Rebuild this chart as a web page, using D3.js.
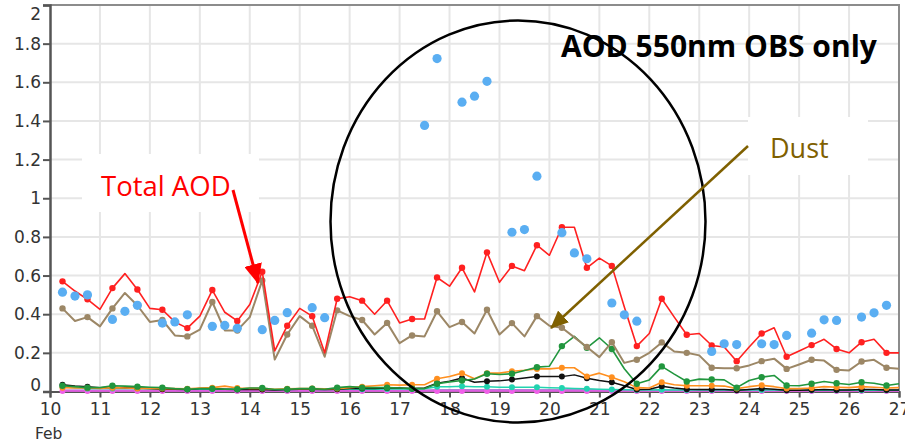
<!DOCTYPE html>
<html><head><meta charset="utf-8">
<script src="https://cdn.jsdelivr.net/npm/d3@7"></script>
<style>body{margin:0;background:#fff}svg{display:block}</style>
</head><body><svg id="c" width="905" height="443"></svg>
<script>
// ---- data ----
const times = [10.25,10.5,10.75,11,11.25,11.5,11.75,12,12.25,12.5,12.75,13,13.25,13.5,13.75,14,14.25,14.5,14.75,15,
  15.25,15.5,15.75,16,16.25,16.5,16.75,17,17.25,17.5,17.75,18,18.25,18.5,18.75,19,19.25,19.5,19.75,20,
  20.25,20.5,20.75,21,21.25,21.5,21.75,22,22.25,22.5,22.75,23,23.25,23.5,23.75,24,24.25,24.5,24.75,25,
  25.25,25.5,25.75,26,26.25,26.5,26.75,27];
const totalAOD = [0.57,0.52,0.477,0.425,0.535,0.61,0.528,0.43,0.423,0.36,0.328,0.39,0.525,0.41,0.365,0.45,0.62,0.21,0.34,0.43,
  0.39,0.20,0.48,0.49,0.47,0.40,0.47,0.355,0.375,0.375,0.59,0.545,0.64,0.515,0.72,0.565,0.65,0.625,0.757,0.705,
  0.85,0.85,0.64,0.69,0.65,0.437,0.235,0.30,0.48,0.385,0.294,0.30,0.238,0.23,0.157,0.23,0.30,0.33,0.18,0.21,
  0.24,0.27,0.22,0.20,0.255,0.27,0.20,0.20];
const dust = [0.43,0.365,0.385,0.337,0.43,0.51,0.445,0.36,0.37,0.29,0.285,0.32,0.463,0.316,0.316,0.385,0.575,0.165,0.295,0.39,
  0.34,0.18,0.42,0.39,0.37,0.295,0.355,0.25,0.29,0.285,0.415,0.333,0.36,0.30,0.423,0.295,0.354,0.285,0.39,0.34,
  0.33,0.28,0.23,0.178,0.255,0.148,0.164,0.20,0.254,0.207,0.20,0.187,0.123,0.12,0.12,0.135,0.157,0.17,0.117,0.14,
  0.164,0.16,0.112,0.109,0.155,0.164,0.123,0.118];
const greenSeries = [0.03,0.025,0.02,0.02,0.03,0.028,0.025,0.022,0.02,0.015,0.012,0.015,0.015,0.012,0.012,0.018,0.018,0.01,0.012,0.015,
  0.015,0.012,0.02,0.025,0.02,0.02,0.02,0.018,0.015,0.015,0.04,0.05,0.057,0.065,0.092,0.088,0.092,0.109,0.126,0.131,
  0.235,0.285,0.226,0.278,0.22,0.118,0.04,0.06,0.13,0.09,0.052,0.064,0.062,0.06,0.02,0.057,0.074,0.083,0.031,0.03,
  0.04,0.052,0.043,0.036,0.048,0.043,0.031,0.04];
const orangeSeries = [0.02,0.018,0.018,0.016,0.02,0.018,0.016,0.016,0.015,0.015,0.014,0.018,0.02,0.028,0.018,0.016,0.016,0.012,0.014,0.015,
  0.015,0.014,0.015,0.02,0.025,0.03,0.035,0.033,0.035,0.035,0.066,0.078,0.095,0.066,0.095,0.095,0.105,0.11,0.117,0.117,
  0.123,0.123,0.078,0.095,0.074,0.05,0.02,0.018,0.048,0.035,0.03,0.03,0.03,0.028,0.015,0.025,0.032,0.025,0.015,0.015,
  0.018,0.025,0.022,0.02,0.025,0.022,0.018,0.02];
const blackSeries = [0.035,0.028,0.025,0.02,0.022,0.02,0.018,0.015,0.012,0.012,0.01,0.015,0.015,0.012,0.01,0.01,0.01,0.008,0.01,0.012,
  0.012,0.01,0.012,0.015,0.015,0.015,0.018,0.018,0.015,0.018,0.043,0.053,0.07,0.048,0.053,0.055,0.062,0.07,0.078,0.078,
  0.077,0.086,0.069,0.057,0.048,0.03,0.01,0.012,0.027,0.018,0.012,0.01,0.01,0.01,0.006,0.01,0.015,0.012,0.006,0.006,
  0.008,0.01,0.008,0.008,0.01,0.01,0.008,0.008];
const tealSeries = [0.025,0.02,0.016,0.015,0.016,0.015,0.015,0.014,0.013,0.012,0.012,0.012,0.012,0.011,0.011,0.012,0.012,0.01,0.01,0.011,
  0.011,0.01,0.011,0.012,0.012,0.012,0.013,0.013,0.013,0.014,0.025,0.025,0.027,0.025,0.025,0.022,0.022,0.022,0.022,0.02,
  0.018,0.016,0.014,0.012,0.01,0.009,0.008,0.008,0.009,0.008,0.008,0.008,0.008,0.008,0.007,0.008,0.008,0.008,0.007,0.007,
  0.007,0.007,0.007,0.007,0.007,0.007,0.007,0.007];
const purpleSeries = [0.005,0.005,0.005,0.005,0.005,0.005,0.005,0.005,0.005,0.005,0.005,0.005,0.005,0.005,0.005,0.005,0.005,0.005,0.005,0.005,
  0.005,0.005,0.005,0.005,0.005,0.005,0.005,0.005,0.005,0.005,0.006,0.006,0.006,0.006,0.006,0.006,0.006,0.006,0.006,0.006,
  0.006,0.006,0.006,0.006,0.005,0.005,0.005,0.005,0.005,0.005,0.005,0.005,0.005,0.005,0.005,0.005,0.005,0.005,0.005,0.005,
  0.005,0.005,0.005,0.005,0.005,0.005,0.005,0.005];
const pinkSeries = [0.003,0.003,0.003,0.003,0.003,0.003,0.003,0.003,0.003,0.003,0.003,0.003,0.003,0.003,0.003,0.003,0.003,0.003,0.003,0.003,
  0.003,0.003,0.003,0.003,0.003,0.003,0.003,0.003,0.003,0.003,0.003,0.003,0.003,0.003,0.003,0.003,0.003,0.003,0.003,0.003,
  0.003,0.003,0.003,0.003,0.003,0.003,0.003,0.003,0.003,0.003,0.003,0.003,0.003,0.003,0.003,0.003,0.003,0.003,0.003,0.003,
  0.003,0.003,0.003,0.003,0.003,0.003,0.003,0.003];
const obsTimes = [10.25,10.5,10.75,11.25,11.5,11.75,12.25,12.5,12.75,13.25,13.5,13.75,14.25,14.5,14.75,15.25,15.5,
  17.5,17.75,18.25,18.5,18.75,19.25,19.5,19.75,20.25,20.5,20.75,21.25,21.5,21.75,
  23.25,23.5,23.75,24.25,24.5,24.75,25.25,25.5,25.75,26.25,26.5,26.75];
const obsAOD = [0.514,0.494,0.50,0.373,0.415,0.446,0.354,0.36,0.397,0.337,0.342,0.327,0.32,0.368,0.408,0.434,0.382,
  1.377,1.723,1.497,1.528,1.605,0.824,0.838,1.114,0.822,0.717,0.687,0.458,0.397,0.364,
  0.207,0.247,0.243,0.247,0.243,0.29,0.302,0.371,0.368,0.385,0.407,0.446];
const xTicks = [10,11,12,13,14,15,16,17,18,19,20,21,22,23,24,25,26,27];
const yTicks = [0,0.2,0.4,0.6,0.8,1,1.2,1.4,1.6,1.8,2];
const yTickLabels = ["0","0.2","0.4","0.6","0.8","1","1.2","1.4","1.6","1.8","2"];
const monthLabel = "Feb";
const titleText = "AOD 550nm OBS only";
const totalLabel = "Total AOD";
const dustLabel = "Dust";

// ---- chart ----
const svg = d3.select("#c");
const x = d3.scaleLinear().domain([10,27]).range([50,899]);
const y = d3.scaleLinear().domain([0,2]).range([391.5,5]);

// grid
const grid = svg.append("g");
grid.selectAll("line.v").data(xTicks.slice(1)).join("line")
  .attr("x1",d=>x(d)).attr("x2",d=>x(d)).attr("y1",y(2)).attr("y2",y(0))
  .attr("stroke","#e6e6e6").attr("stroke-width",2);
grid.selectAll("line.h").data(yTicks.slice(1)).join("line")
  .attr("x1",x(10)).attr("x2",x(27)).attr("y1",d=>y(d)).attr("y2",d=>y(d))
  .attr("stroke","#e6e6e6").attr("stroke-width",2);
// frame top/right
svg.append("line").attr("x1",x(10)).attr("x2",x(27)+1).attr("y1",y(2)).attr("y2",y(2)).attr("stroke","#8c8c8c").attr("stroke-width",2);
svg.append("line").attr("x1",x(27)).attr("x2",x(27)).attr("y1",y(2)).attr("y2",y(0)).attr("stroke","#8c8c8c").attr("stroke-width",2);

// annotation boxes (white, behind data)
function labelBox(x0,y0,w,h){svg.append("rect").attr("x",x0).attr("y",y0).attr("width",w).attr("height",h).attr("fill","#fff");}
labelBox(82,154,177,58);
labelBox(748,117,120,58);

// axes
const xAxis = d3.axisBottom(x).tickValues(xTicks).tickSize(6).tickFormat(d3.format("d"));
const gx = svg.append("g").attr("transform",`translate(0,${y(0)})`).call(xAxis);
gx.select(".domain").attr("stroke","#555").attr("stroke-width",2);
gx.selectAll(".tick line").attr("stroke","#555").attr("stroke-width",2);
gx.selectAll(".tick text").attr("font-family","DejaVu Sans").attr("font-size",17).attr("fill","#333").attr("y",11).attr("dy","0.71em");
svg.append("text").attr("x",35).attr("y",439).attr("font-family","DejaVu Sans").attr("font-size",15.5).attr("fill","#333").text(monthLabel);

const yAxis = d3.axisLeft(y).tickValues(yTicks).tickSize(7).tickFormat((d,i)=>yTickLabels[i]);
const gy = svg.append("g").attr("transform",`translate(${x(10)},0)`).call(yAxis);
gy.select(".domain").attr("stroke","#555").attr("stroke-width",2.5);
gy.selectAll(".tick line").attr("stroke","#555").attr("stroke-width",2);
gy.selectAll(".tick text").attr("font-family","DejaVu Sans").attr("font-size",17).attr("fill","#333").attr("x",-9)
  .attr("dy",(d)=> d===2 ? "0.85em" : (d===0 ? "-0.05em" : "0.32em"));

// series
const line = d3.line().x((d,i)=>x(times[i])).y(d=>y(d));
function series(vals,color,w,markR){
  svg.append("path").attr("d",line(vals)).attr("fill","none").attr("stroke",color).attr("stroke-width",w).attr("stroke-linejoin","round");
  svg.append("g").selectAll("circle").data(vals.map((v,i)=>[times[i],v]).filter((d,i)=>i%2===0 && i<times.length-1)).join("circle")
    .attr("cx",d=>x(d[0])).attr("cy",d=>y(d[1])).attr("r",markR).attr("fill",color);
}
svg.append("path").attr("d",line(purpleSeries)).attr("fill","none").attr("stroke","#9b59c9").attr("stroke-width",2);
series(pinkSeries,"#f060e8",1.5,3);
series(tealSeries,"#22d3b0",1.5,3);
series(blackSeries,"#111",1.5,3);
series(orangeSeries,"#ff8f1f",1.6,3);
series(greenSeries,"#21963e",1.6,3.2);
series(dust,"#9c8766",2,3.2);
series(totalAOD,"#ff2020",1.6,3.2);

// observations
svg.append("g").selectAll("circle").data(obsTimes.map((t,i)=>[t,obsAOD[i]])).join("circle")
  .attr("cx",d=>x(d[0])).attr("cy",d=>y(d[1])).attr("r",4.6).attr("fill","#5aaef2");

// circle annotation
svg.append("ellipse").attr("cx",518).attr("cy",221.5).attr("rx",187.5).attr("ry",201)
  .attr("fill","none").attr("stroke","#000").attr("stroke-width",2.5);

// text annotations
svg.append("text").attr("x",561).attr("y",57).attr("font-family","Open Sans").attr("font-weight","bold")
  .attr("font-size",30).attr("fill","#000").text(titleText);
svg.append("text").attr("x",101).attr("y",196).attr("font-family","Open Sans").attr("font-size",27.5)
  .attr("fill","#ff0000").text(totalLabel);
svg.append("text").attr("x",770).attr("y",158).attr("font-family","Open Sans").attr("font-size",27)
  .attr("fill","#7f6000").text(dustLabel);

// arrows
const defs = svg.append("defs");
function arrowMarker(id,color,len,wid){
  defs.append("marker").attr("id",id).attr("markerUnits","userSpaceOnUse").attr("viewBox",`0 0 ${len} ${wid}`)
    .attr("markerWidth",len).attr("markerHeight",wid).attr("refX",len-1).attr("refY",wid/2).attr("orient","auto")
    .append("path").attr("d",`M0,0L${len},${wid/2}L0,${wid}Z`).attr("fill",color);
}
arrowMarker("ar","#ff0000",20,18);
arrowMarker("ad","#7f6000",18,16);
svg.append("line").attr("x1",233).attr("y1",190).attr("x2",258).attr("y2",283)
  .attr("stroke","#ff0000").attr("stroke-width",3).attr("marker-end","url(#ar)");
svg.append("line").attr("x1",748).attr("y1",146).attr("x2",551).attr("y2",328)
  .attr("stroke","#7f6000").attr("stroke-width",2.5).attr("marker-end","url(#ad)");
</script></body></html>
